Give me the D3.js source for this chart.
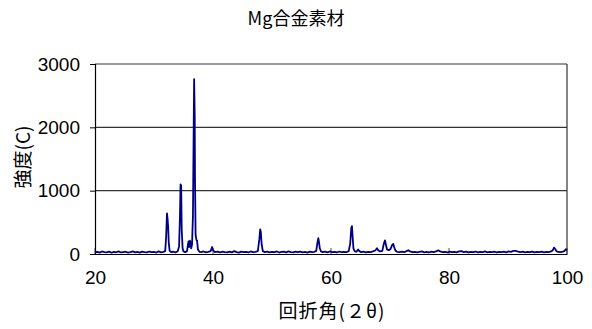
<!DOCTYPE html>
<html>
<head>
<meta charset="utf-8">
<script src="https://cdnjs.cloudflare.com/ajax/libs/d3/7.8.5/d3.min.js"></script>
<style>
  body { margin: 0; background: #fff; }
  svg text { font-family: "Noto Sans CJK JP", "Noto Sans", sans-serif; fill: #000; }
  svg .tick text { font-family: "Liberation Sans Narrow", "Liberation Sans", sans-serif; }
</style>
</head>
<body>
<svg id="chart" width="592" height="329"></svg>
<script>
// XRD scan: [2theta, intensity]
const scan = [
  [20.0,28],[20.4,35],[20.8,22],[21.2,40],[21.6,30],[22.0,25],[22.4,38],[22.8,20],[23.2,33],[23.6,27],
  [24.0,42],[24.4,24],[24.8,31],[25.2,36],[25.6,22],[26.0,29],[26.4,40],[26.8,26],[27.2,34],[27.6,21],
  [28.0,37],[28.4,30],[28.8,25],[29.2,39],[29.6,28],[30.0,32],[30.4,23],[30.8,41],[31.2,27],[31.6,35],
  [31.9,45],[32.05,260],[32.2,640],[32.3,560],[32.4,420],[32.5,180],[32.65,50],[32.9,30],[33.2,38],[33.6,25],
  [34.0,40],[34.25,120],[34.4,600],[34.5,1100],[34.6,1080],[34.7,380],[34.85,90],[35.0,40],[35.3,30],[35.6,45],
  [35.75,150],[35.85,200],[35.95,110],[36.1,210],[36.2,180],[36.3,90],[36.45,150],[36.6,600],[36.7,1700],[36.8,2760],
  [36.9,2200],[36.95,1200],[37.05,300],[37.2,220],[37.3,210],[37.45,70],[37.7,35],[38.0,28],[38.4,40],[38.8,25],
  [39.2,33],[39.6,45],[39.85,110],[40.0,60],[40.3,30],[40.8,36],[41.2,24],[41.6,38],[42.0,30],[42.4,27],
  [42.8,39],[43.2,26],[43.6,45],[44.0,30],[44.4,22],[44.8,37],[45.2,29],[45.6,34],[46.0,24],[46.4,40],
  [46.8,28],[47.2,33],[47.6,45],[47.85,230],[48.0,390],[48.1,350],[48.25,150],[48.45,45],[48.8,30],[49.2,38],
  [49.6,25],[50.0,34],[50.4,28],[50.8,40],[51.2,23],[51.6,32],[52.0,37],[52.4,26],[52.8,41],[53.2,30],
  [53.6,24],[54.0,36],[54.4,29],[54.8,39],[55.2,27],[55.6,33],[56.0,22],[56.4,38],[56.8,30],[57.2,35],
  [57.5,50],[57.7,180],[57.85,250],[57.95,200],[58.1,90],[58.3,40],[58.6,30],[59.0,36],[59.4,25],[59.8,40],
  [60.2,28],[60.6,33],[61.0,24],[61.4,39],[61.8,30],[62.2,35],[62.6,28],[63.0,45],[63.25,160],[63.45,420],
  [63.55,440],[63.65,300],[63.8,90],[64.0,45],[64.3,35],[64.6,70],[64.8,45],[65.1,30],[65.5,38],[65.9,26],
  [66.3,35],[66.7,30],[67.1,42],[67.5,55],[67.8,90],[68.0,60],[68.3,40],[68.7,50],[68.95,160],[69.15,215],
  [69.3,150],[69.5,70],[69.8,60],[70.1,80],[70.35,140],[70.55,160],[70.7,110],[70.9,55],[71.2,35],[71.6,30],
  [72.0,38],[72.4,28],[72.8,45],[73.1,60],[73.4,40],[73.8,28],[74.2,35],[74.6,26],[75.0,33],[75.4,40],
  [75.8,27],[76.2,34],[76.6,24],[77.0,37],[77.4,29],[77.8,42],[78.2,58],[78.5,40],[78.9,30],[79.3,35],
  [79.7,24],[80.1,38],[80.5,29],[80.9,33],[81.3,26],[81.7,40],[82.1,45],[82.5,30],[82.9,36],[83.3,24],
  [83.7,34],[84.1,29],[84.5,39],[84.9,25],[85.3,33],[85.7,28],[86.1,40],[86.5,26],[86.9,35],[87.3,30],
  [87.7,38],[88.1,24],[88.5,34],[88.9,29],[89.3,37],[89.7,27],[90.1,40],[90.5,35],[90.9,48],[91.3,50],
  [91.7,38],[92.1,30],[92.5,36],[92.9,25],[93.3,33],[93.7,28],[94.1,38],[94.5,26],[94.9,34],[95.3,30],
  [95.7,37],[96.1,27],[96.5,35],[96.9,30],[97.3,40],[97.6,60],[97.8,100],[98.0,80],[98.2,45],[98.5,32],
  [98.9,28],[99.3,36],[99.6,50],[99.8,75],[100.0,60]
];
const xTicks = [20, 40, 60, 80, 100];
const yTicks = [0, 1000, 2000, 3000];
const title = "Mg合金素材";
const xTitle = "回折角(２θ)";
const yTitle = "強度(C)";

const svg = d3.select("#chart");
const mLeft = 95, mRight = 567, mTop = 64, mBottom = 254;

const x = d3.scaleLinear().domain([20, 100]).range([mLeft, mRight]);
const y = d3.scaleLinear().domain([0, 3000]).range([mBottom, mTop]);

// gridlines + frame
svg.append("g").selectAll("line")
  .data(yTicks.filter(d => d > 0))
  .enter().append("line")
  .attr("x1", mLeft).attr("x2", mRight)
  .attr("y1", d => y(d)).attr("y2", d => y(d))
  .attr("stroke", "#333").attr("stroke-width", 1.2);
svg.append("line")
  .attr("x1", mRight).attr("x2", mRight).attr("y1", mTop).attr("y2", mBottom)
  .attr("stroke", "#333").attr("stroke-width", 1.2);

// x ticks point inward
svg.append("g").selectAll("line")
  .data(xTicks)
  .enter().append("line")
  .attr("x1", d => x(d)).attr("x2", d => x(d))
  .attr("y1", mBottom).attr("y2", mBottom - 6)
  .attr("stroke", "#555").attr("stroke-width", 1);

// y axis
const yAxis = svg.append("g")
  .attr("transform", "translate(" + mLeft + ",0)")
  .call(d3.axisLeft(y).tickValues(yTicks).tickSize(5).tickPadding(10).tickFormat(d3.format("d")));
yAxis.select(".domain").attr("stroke", "#000").attr("stroke-width", 1.2);
yAxis.selectAll(".tick line").attr("stroke", "#000");
yAxis.selectAll("text").style("font-size", "19px").attr("fill", "#000");

// x axis labels
const xAxis = svg.append("g")
  .attr("transform", "translate(0," + mBottom + ")")
  .call(d3.axisBottom(x).tickValues(xTicks).tickSize(0).tickPadding(17));
xAxis.select(".domain").attr("stroke", "#000").attr("stroke-width", 1.2);
xAxis.selectAll("text").style("font-size", "19px").attr("fill", "#000");

// the scan
const line = d3.line().x(d => x(d[0])).y(d => y(d[1]));
svg.append("path")
  .datum(scan)
  .attr("d", line)
  .attr("fill", "none")
  .attr("stroke", "#000080")
  .attr("stroke-width", 1.8)
  .attr("stroke-linejoin", "round");

// titles
svg.append("text")
  .attr("x", 296).attr("y", 25)
  .attr("text-anchor", "middle")
  .style("font-size", "18px")
  .text(title);
svg.append("text")
  .attr("x", (mLeft + mRight) / 2 + 1).attr("y", 318)
  .attr("text-anchor", "middle")
  .style("font-size", "19px")
  .style("letter-spacing", "1px")
  .text(xTitle);
svg.append("text")
  .attr("transform", "translate(30," + ((mTop + mBottom) / 2 - 2) + ") rotate(-90)")
  .attr("text-anchor", "middle")
  .style("font-size", "19px")
  .text(yTitle);
</script>
</body>
</html>
